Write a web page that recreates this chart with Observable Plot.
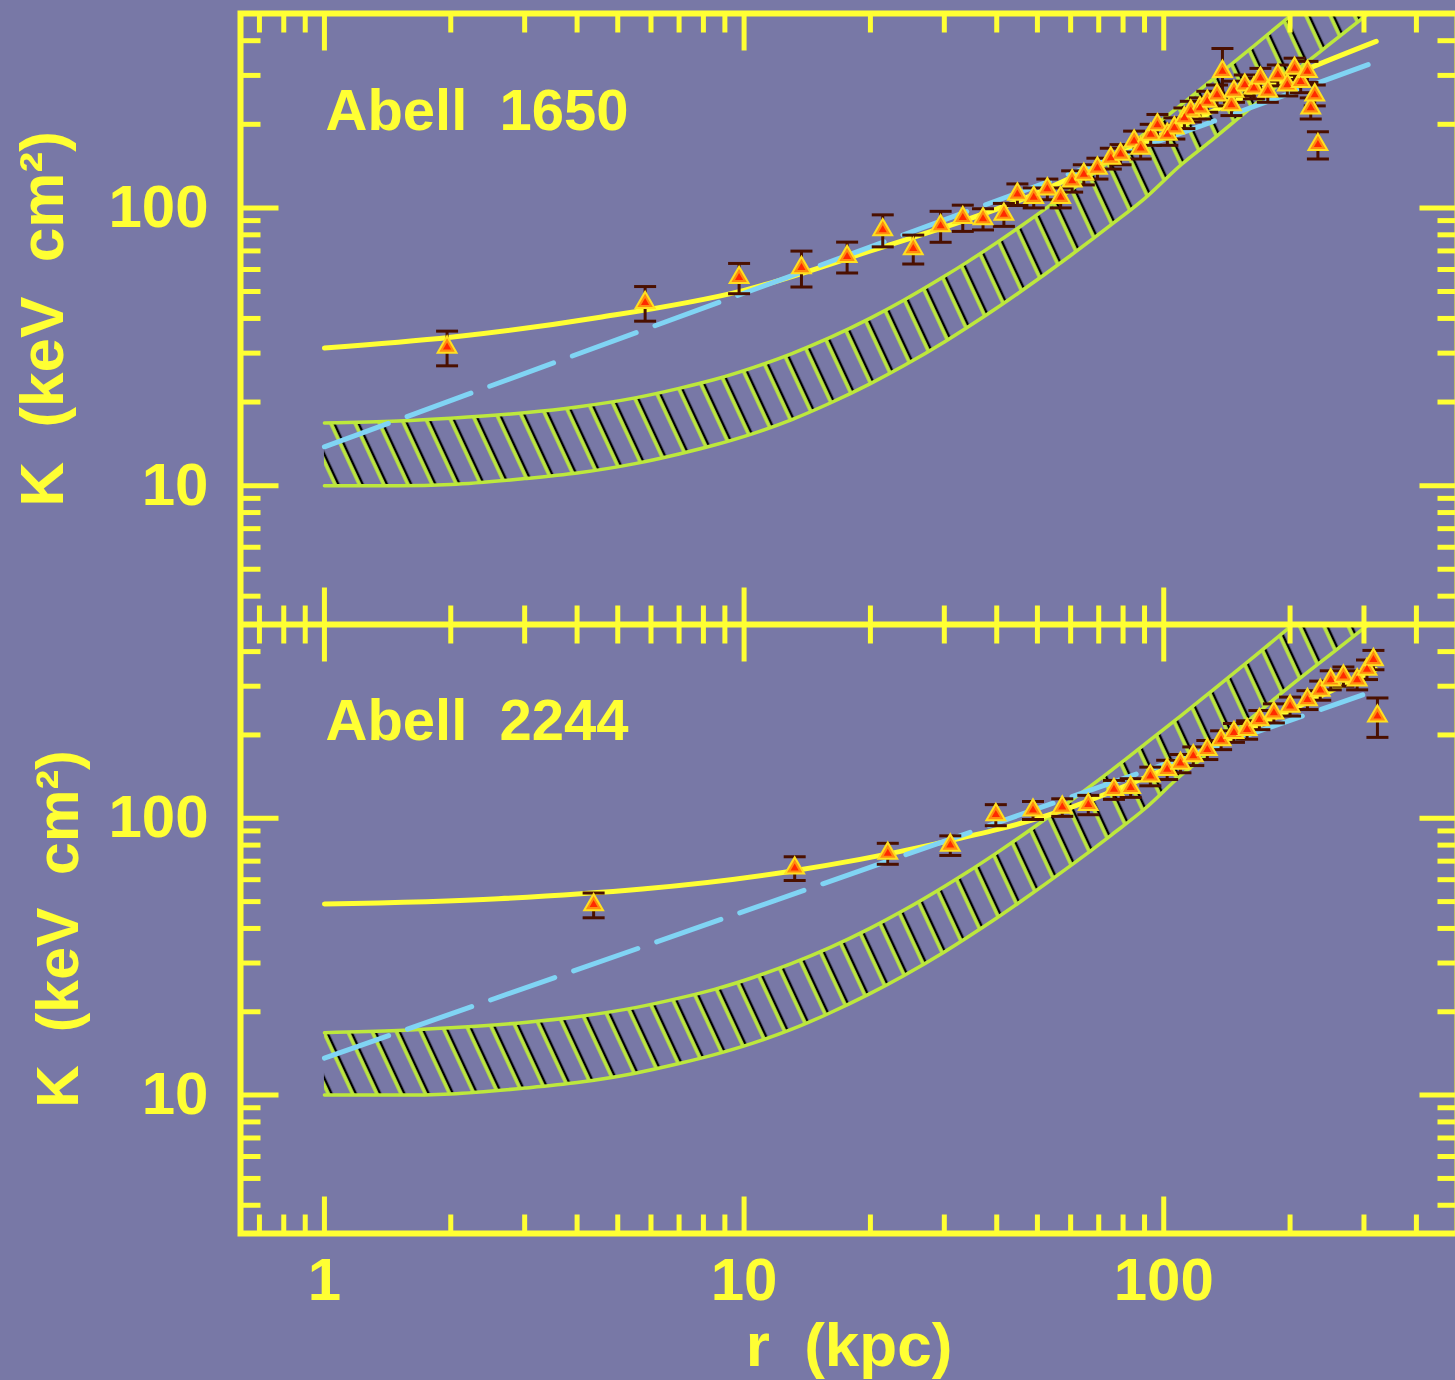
<!DOCTYPE html>
<html>
<head>
<meta charset="utf-8">
<script src="https://cdn.jsdelivr.net/npm/d3@7"></script>
<script src="https://cdn.jsdelivr.net/npm/@observablehq/plot@0.6"></script>
<style>
  html, body { margin: 0; padding: 0; background: #7878a6; }
  #wrap { position: relative; width: 1455px; height: 1380px; overflow: hidden; background: #7878a6; }
  #wrap > svg { position: absolute; left: 0; }
</style>
</head>
<body>
<svg width="0" height="0" style="position:absolute">
  <defs>
    <pattern id="hatch" patternUnits="userSpaceOnUse" width="22" height="22" patternTransform="rotate(-25)">
      <line x1="14" y1="-2" x2="14" y2="24" stroke="#000000" stroke-width="2.5"/>
      <line x1="11" y1="-2" x2="11" y2="24" stroke="#bde83c" stroke-width="3.5"/>
    </pattern>
  </defs>
</svg>
<div id="wrap"></div>
<script>
// ---------------- data ----------------
// Abell 1650 entropy profile (r in kpc, K in keV cm^2, symmetric error)
const r1650 = [1.96, 5.81, 9.73, 13.7, 17.6, 21.4, 25.3, 29.4, 33.2, 37.1, 41.6, 44.8, 49.0, 52.8, 56.8, 60.5, 64.5, 69.5, 74.8, 78.9, 85.0, 88.1, 93.1, 96.6, 102, 106, 112, 116, 122, 127, 134, 138, 145, 147, 156, 164, 170, 177, 187, 197, 205, 212, 220, 224, 229, 233];
const k1650 = [31.5, 45.6, 56.1, 60.9, 66.8, 83.4, 71.3, 86.2, 92.3, 91.3, 94.8, 112, 109, 117, 109, 125, 132, 139, 151, 156, 174, 164, 184, 199, 184, 194, 211, 223, 229, 242, 255, 310, 235, 263, 277, 270, 293, 263, 301, 277, 318, 285, 310, 229, 255, 169];
const e1650 = [4.5, 6.5, 7, 9, 8.5, 11, 8.5, 11, 10, 8, 9, 10, 9, 10, 9, 11, 11, 12, 13, 13, 15, 14, 16, 18, 16, 17, 18, 19, 20, 21, 22, 65, 20, 23, 24, 23, 25, 23, 26, 24, 28, 25, 27, 20, 22, 19];

// Abell 2244 entropy profile
const r2244 = [4.38, 13.2, 22.0, 31.0, 39.8, 48.8, 57.3, 66.1, 76.1, 83.4, 92.9, 101.9, 109.6, 117.6, 127, 137, 147, 158, 169, 183, 200, 220, 236, 250, 268, 289, 305, 316, 323];
const k2244 = [48.7, 66.1, 74.7, 79.9, 103, 107, 109.6, 112, 127, 129, 142, 150, 158, 168, 177, 192, 204, 209, 227, 240, 254, 268, 290, 316, 326, 316, 345, 374, 234];
const e2244 = [5, 6.5, 6.5, 6.5, 9, 8, 8, 9, 10, 10, 11, 12, 12, 13, 14, 15, 16, 16, 18, 19, 20, 21, 23, 25, 26, 25, 28, 30, 38];

// Fitted profiles (yellow solid)
const fitR1650 = [1, 2, 4.5, 10, 20, 45, 100, 233, 321];
const fitK1650 = [31.3, 34.2, 40.3, 50.5, 70, 106, 185, 328, 398];
const fitR2244 = [1, 2.6, 12.6, 27.7, 55.6, 100, 200, 320];
const fitK2244 = [49, 51.2, 64, 80, 105, 150, 245, 345];

// Power-law (cyan dashed)
const plR1650 = [1, 307];
const plK1650 = [13.8, 328];
const plR2244 = [1, 298];
const plK2244 = [13.6, 279];

// Hatched reference band (same in both panels)
const bandR  = [1, 1.5, 2, 3, 4, 5.5, 7, 8.5, 10.5, 13, 16, 20, 24, 30, 34, 40, 45, 60, 75, 90, 110, 130, 165, 200, 260, 330];
const bandLo = [10.0, 10.0, 10.1, 10.6, 11.1, 12.0, 13.0, 14.0, 15.4, 17.3, 19.8, 23.3, 27.0, 32.9, 37.1, 43.6, 49.3, 67.4, 87, 108, 143, 175, 236, 300, 410, 545];
const bandHi = [16.8, 17.1, 17.5, 18.3, 19.2, 20.7, 22.4, 24.1, 26.6, 29.9, 34.1, 40.1, 46.5, 56.7, 63.8, 75.0, 84.7, 115.7, 149, 185, 235, 288, 386, 491, 685, 928];

// Ticks
const xMajor = [1, 10, 100];
const xMinor = [0.7, 0.8, 0.9, 2, 3, 4, 5, 6, 7, 8, 9, 20, 30, 40, 50, 60, 70, 80, 90, 200, 300, 400];
const yMajor = [10, 100];
const yMinor = [4, 5, 6, 7, 8, 9, 20, 30, 40, 50, 60, 70, 80, 90, 200, 300, 400];

const titles = ["Abell  1650", "Abell  2244"];
const yLabel = "K  (keV  cm²)";
const xLabel = "r  (kpc)";

// ---------------- drawing ----------------
const YEL = "#ffff33", GRN = "#bde83c", CYAN = "#80d4f4", BAR = "#4a1000";
const FONT = "'Liberation Sans', Arial, sans-serif";
const xDomain = [Math.pow(10, -0.2), Math.pow(10, 2.7)];
const yDomain = [Math.pow(10, 0.5), Math.pow(10, 2.7)];

const zip2 = (xs, ys) => xs.map((x, i) => ({x, y: ys[i]}));
const zip3 = (rs, ks, es) => rs.map((r, i) => ({r, k: ks[i], e: es[i]}));
const band = bandR.map((r, i) => ({r, lo: bandLo[i], hi: bandHi[i]}));

const tickShape = {draw(ctx, l) { ctx.moveTo(0, 0); ctx.lineTo(0, -l); }};
const capSym = {draw(ctx) { ctx.moveTo(-11, 0); ctx.lineTo(11, 0); }};

function tickMarks(vals, dim, frameAnchor, rotate, len) {
  return Plot.vector(vals, {
    [dim]: d => d, frameAnchor, rotate, length: len, anchor: "start",
    shape: tickShape, stroke: YEL, strokeWidth: 5, strokeLinecap: "butt"
  });
}

function panel({pts, fit, pl, title, titleDy, height, mt, mb, yLabDx, yLabSize, showX}) {
  const marks = [
    Plot.areaY(band, {x: "r", y1: "lo", y2: "hi", fill: "url(#hatch)", curve: "monotone-x", clip: true}),
    Plot.line(band, {x: "r", y: "lo", stroke: GRN, strokeWidth: 3.5, curve: "monotone-x", clip: true}),
    Plot.line(band, {x: "r", y: "hi", stroke: GRN, strokeWidth: 3.5, curve: "monotone-x", clip: true}),
    Plot.line(fit, {x: "x", y: "y", stroke: YEL, strokeWidth: 5, curve: "monotone-x", clip: true}),
    Plot.line(pl, {x: "x", y: "y", stroke: CYAN, strokeWidth: 5, strokeDasharray: "68,20", clip: true}),
    Plot.ruleX(pts, {x: "r", y1: d => d.k - d.e, y2: d => d.k + d.e, stroke: BAR, strokeWidth: 3}),
    Plot.dot(pts, {x: "r", y: d => d.k + d.e, symbol: capSym, r: 1, fill: "none", stroke: BAR, strokeWidth: 3}),
    Plot.dot(pts, {x: "r", y: d => d.k - d.e, symbol: capSym, r: 1, fill: "none", stroke: BAR, strokeWidth: 3}),
    Plot.dot(pts, {x: "r", y: "k", symbol: "triangle", r: 7, fill: "#ff8c10", stroke: "#ffe020", strokeWidth: 2}),
    Plot.dot(pts, {x: "r", y: "k", symbol: "triangle", r: 3, fill: "#ff2a00", stroke: "none"}),
    Plot.frame({stroke: YEL, strokeWidth: 6}),
    tickMarks(xMajor, "x", "bottom", 0, 37),
    tickMarks(xMinor, "x", "bottom", 0, 19),
    tickMarks(xMajor, "x", "top", 180, 37),
    tickMarks(xMinor, "x", "top", 180, 19),
    tickMarks(yMajor, "y", "left", 90, 38),
    tickMarks(yMinor, "y", "left", 90, 20),
    tickMarks(yMajor, "y", "right", -90, 38),
    tickMarks(yMinor, "y", "right", -90, 20),
    Plot.axisY(yMajor, {anchor: "left", tickSize: 0, tickPadding: 32, label: null, tickFormat: d => String(d),
      fontSize: 60, fontFamily: FONT, fontWeight: "bold", color: YEL, fill: YEL}),
    Plot.text([title], {text: d => d, frameAnchor: "top-left", dx: 85, dy: titleDy, lineAnchor: "top", textAnchor: "start",
      fontSize: 58, fontFamily: FONT, fontWeight: "bold", fill: YEL}),
    Plot.text([yLabel], {text: d => d, frameAnchor: "left", dx: yLabDx, rotate: -90, lineAnchor: "middle", textAnchor: "middle",
      fontSize: yLabSize, fontFamily: FONT, fontWeight: "bold", fill: YEL})
  ];
  if (showX) {
    marks.push(
      Plot.axisX(xMajor, {anchor: "bottom", tickSize: 0, tickPadding: 24, label: null, tickFormat: d => String(d),
        fontSize: 60, fontFamily: FONT, fontWeight: "bold", color: YEL, fill: YEL}),
      Plot.text([xLabel], {text: d => d, frameAnchor: "bottom", dy: 88, lineAnchor: "top", textAnchor: "middle",
        fontSize: 62, fontFamily: FONT, fontWeight: "bold", fill: YEL})
    );
  }
  return Plot.plot({
    width: 1455, height,
    marginLeft: 240, marginRight: -2, marginTop: mt, marginBottom: mb,
    x: {type: "log", domain: xDomain, axis: showX ? undefined : null},
    y: {type: "log", domain: yDomain},
    style: {background: "transparent", color: YEL},
    marks
  });
}

const wrapEl = document.getElementById("wrap");
const panelTop = panel({
  pts: zip3(r1650, k1650, e1650), fit: zip2(fitR1650, fitK1650), pl: zip2(plR1650, plK1650),
  title: titles[0], titleDy: 75, height: 624, mt: 13, mb: 0, yLabDx: -197, yLabSize: 62, showX: false
});
panelTop.style.top = "0px";
wrapEl.appendChild(panelTop);
const panelBot = panel({
  pts: zip3(r2244, k2244, e2244), fit: zip2(fitR2244, fitK2244), pl: zip2(plR2244, plK2244),
  title: titles[1], titleDy: 74, height: 756, mt: 0, mb: 147, yLabDx: -181, yLabSize: 59, showX: true
});
panelBot.style.top = "624px";
wrapEl.appendChild(panelBot);
</script>
</body>
</html>
